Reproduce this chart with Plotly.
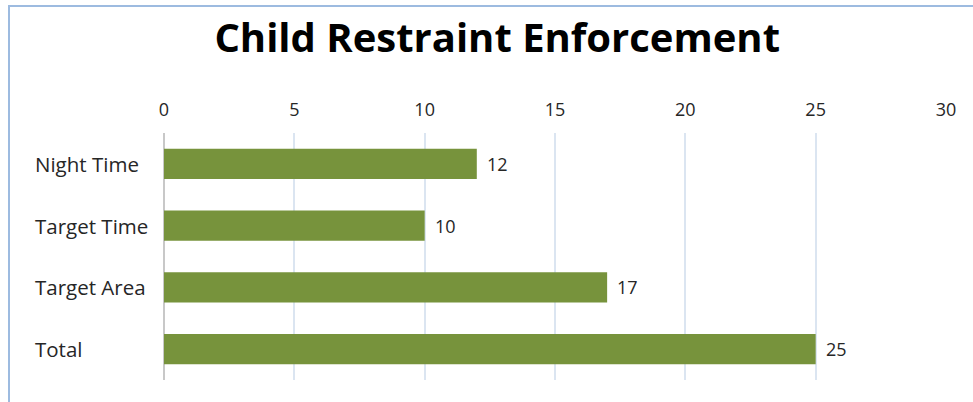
import plotly.graph_objects as go

categories = ["Night Time", "Target Time", "Target Area", "Total"]
values = [12, 10, 17, 25]
x_ticks = [0, 5, 10, 15, 20, 25, 30]

W, H = 973, 402
L, R, T, B = 164, 27, 133, 22
pw = W - L - R
ph = H - T - B

FONT = "Open Sans"
TXT = "#262626"

fig = go.Figure(go.Bar(
    x=values, y=categories, orientation="h",
    marker=dict(color="#77933c", line=dict(width=0)),
    width=0.49,
))

for c, v in zip(categories, values):
    fig.add_annotation(x=(33 - L) / pw, xref="paper", y=c, yref="y", text=c,
                       showarrow=False, xanchor="left",
                       font=dict(size=20.5, color=TXT, family=FONT))
    fig.add_annotation(x=v, xref="x", y=c, yref="y", text=str(v),
                       showarrow=False, xanchor="left", xshift=8,
                       font=dict(size=18, color=TXT, family=FONT))

fig.add_shape(type="rect", xref="paper", yref="paper",
              x0=(9 - L) / pw, x1=1.2, y0=-0.3, y1=(H - B - 6) / ph,
              line=dict(color="#9dbbe0", width=2), layer="below")

fig.update_layout(
    width=W, height=H,
    margin=dict(l=L, r=R, t=T, b=B),
    paper_bgcolor="white", plot_bgcolor="white",
    showlegend=False,
    title=dict(text="<b>Child Restraint Enforcement</b>", x=0.511, xanchor="center",
               y=1 - 38 / H, yanchor="middle",
               font=dict(size=40, color="#000000", family=FONT)),
    font=dict(family=FONT, color=TXT),
    xaxis=dict(side="top", range=[0, 30], tickvals=x_ticks, ticktext=[str(v) for v in x_ticks],
               showgrid=True, gridcolor="#dbe5f1", gridwidth=2,
               zeroline=True, zerolinecolor="#c8c8c8", zerolinewidth=2,
               showline=False, ticks="", ticklabelstandoff=12,
               tickfont=dict(size=18, color=TXT, family=FONT), fixedrange=True),
    yaxis=dict(categoryorder="array", categoryarray=categories, autorange="reversed",
               showticklabels=False, showgrid=False, zeroline=False, showline=False,
               ticks="", fixedrange=True),
)

fig.write_html("out.html", config={"displayModeBar": False},
               post_script="document.body.style.margin='0';document.body.style.overflow='hidden';")
